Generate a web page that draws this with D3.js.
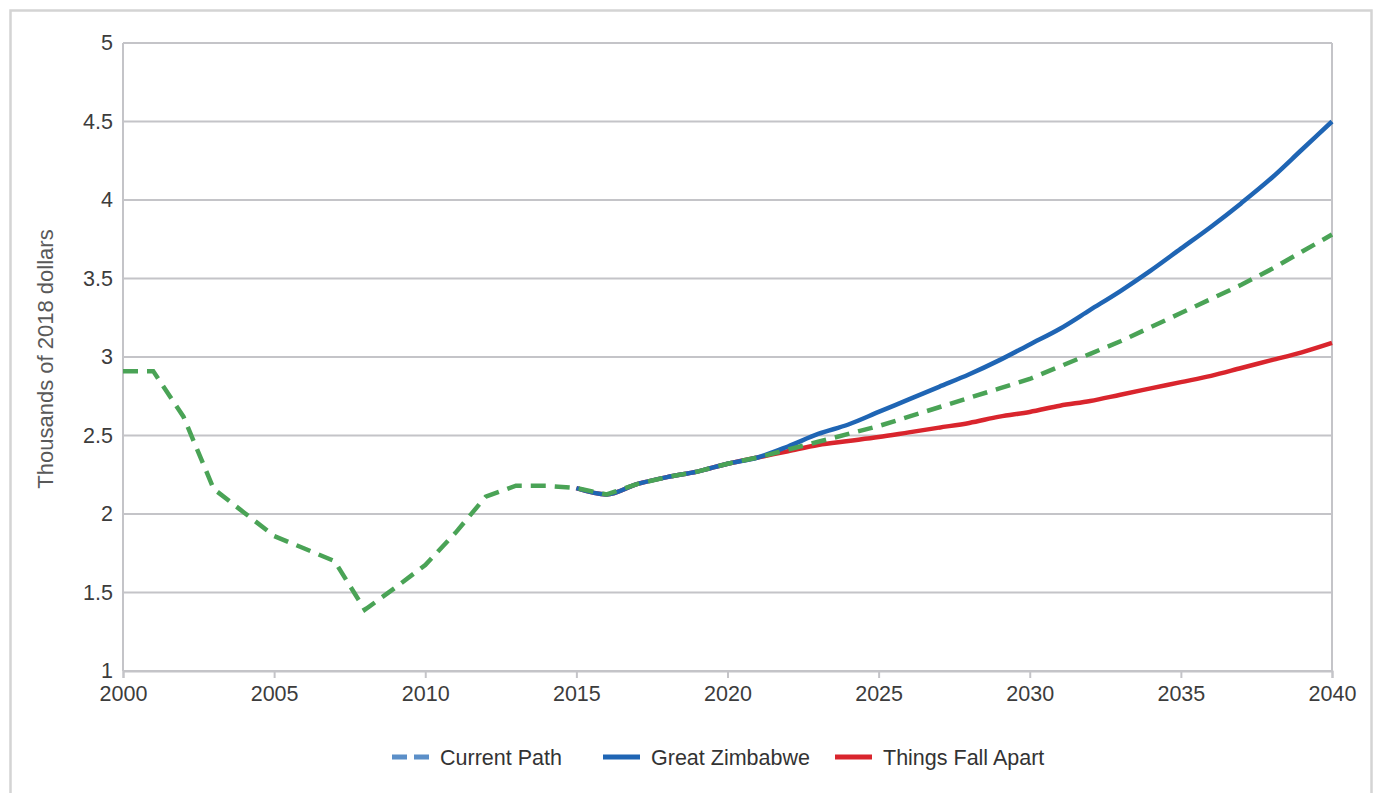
<!DOCTYPE html>
<html>
<head>
<meta charset="utf-8">
<script src="https://cdn.jsdelivr.net/npm/d3@7"></script>
<style>
  body { margin: 0; background: #fff; }
  text { font-family: "Liberation Sans", Arial, sans-serif; }
</style>
</head>
<body>
<div id="chart"></div>
<script>
// chart data
const years = d3.range(2000, 2041);
const currentPath = [2.91, 2.91, 2.62, 2.16, 2.01, 1.86, 1.78, 1.70, 1.39, 1.53,
  1.675, 1.88, 2.11, 2.18, 2.18, 2.165, 2.125, 2.19, 2.235, 2.27,
  2.32, 2.36, 2.41, 2.46, 2.51, 2.56, 2.62, 2.68, 2.74, 2.80,
  2.86, 2.94, 3.02, 3.10, 3.19, 3.28, 3.37, 3.46, 3.56, 3.67, 3.78];
const zimYears = d3.range(2015, 2041);
const greatZimbabwe = [2.165, 2.125, 2.19, 2.235, 2.27, 2.32, 2.36, 2.43, 2.51, 2.57,
  2.65, 2.73, 2.81, 2.89, 2.98, 3.08, 3.18, 3.30, 3.42, 3.55,
  3.69, 3.83, 3.98, 4.14, 4.32, 4.50];
const thingsFallApart = [2.165, 2.125, 2.19, 2.235, 2.27, 2.32, 2.36, 2.40, 2.44, 2.465,
  2.49, 2.52, 2.55, 2.58, 2.62, 2.65, 2.69, 2.72, 2.76, 2.80,
  2.84, 2.88, 2.93, 2.98, 3.03, 3.09];
const yTicks = [1, 1.5, 2, 2.5, 3, 3.5, 4, 4.5, 5];
const xTicks = [2000, 2005, 2010, 2015, 2020, 2025, 2030, 2035, 2040];

const width = 1378, height = 793;
const margin = { top: 43, right: 46, bottom: 122, left: 123 };

const svg = d3.select("#chart")
  .append("svg")
  .attr("width", width)
  .attr("height", height);

// outer frame
svg.append("rect")
  .attr("x", 10.5).attr("y", 10.5)
  .attr("width", 1361).attr("height", height)
  .attr("fill", "none")
  .attr("stroke", "#d4d4d4")
  .attr("stroke-width", 2.5);

const x = d3.scaleLinear()
  .domain([2000, 2040])
  .range([margin.left, width - margin.right]);

const y = d3.scaleLinear()
  .domain([1, 5])
  .range([height - margin.bottom, margin.top]);

// horizontal grid lines
svg.append("g")
  .selectAll("line")
  .data(yTicks)
  .join("line")
  .attr("x1", x(2000)).attr("x2", x(2040))
  .attr("y1", d => y(d)).attr("y2", d => y(d))
  .attr("stroke", "#c4c4c8")
  .attr("stroke-width", 2);

// left and right frame of plot
svg.append("g")
  .selectAll("line")
  .data([2000, 2040])
  .join("line")
  .attr("x1", d => x(d)).attr("x2", d => x(d))
  .attr("y1", y(5)).attr("y2", y(1))
  .attr("stroke", "#c4c4c8")
  .attr("stroke-width", 2);

// x axis
const xAxis = svg.append("g")
  .attr("transform", `translate(0,${y(1)})`)
  .call(d3.axisBottom(x).tickValues(xTicks).tickFormat(d3.format("d")).tickSize(7).tickPadding(8));
xAxis.select(".domain").attr("stroke", "#c4c4c8").attr("stroke-width", 2);
xAxis.selectAll(".tick line").attr("stroke", "#c4c4c8").attr("stroke-width", 2);
xAxis.selectAll("text").attr("font-size", "21.5px").attr("fill", "#3c3c3c");

// y axis
const yAxis = svg.append("g")
  .attr("transform", `translate(${margin.left},0)`)
  .call(d3.axisLeft(y).tickValues(yTicks).tickFormat(d => d).tickSize(0).tickPadding(10));
yAxis.select(".domain").remove();
yAxis.selectAll("text").attr("font-size", "21.5px").attr("fill", "#3c3c3c");

// y axis title
svg.append("text")
  .attr("transform", `translate(53,${(y(1) + y(5)) / 2 + 2}) rotate(-90)`)
  .attr("text-anchor", "middle")
  .attr("font-size", "22px")
  .attr("fill", "#595959")
  .text("Thousands of 2018 dollars");

const line = d3.line()
  .x(d => x(d[0]))
  .y(d => y(d[1]));

// red first, then blue, then green dashed on top
svg.append("path")
  .datum(d3.zip(zimYears, thingsFallApart))
  .attr("d", line.curve(d3.curveMonotoneX))
  .attr("fill", "none")
  .attr("stroke", "#d9252d")
  .attr("stroke-width", 4.5);

svg.append("path")
  .datum(d3.zip(zimYears, greatZimbabwe))
  .attr("d", line.curve(d3.curveMonotoneX))
  .attr("fill", "none")
  .attr("stroke", "#1f65b4")
  .attr("stroke-width", 4.5);

svg.append("path")
  .datum(d3.zip(years, currentPath))
  .attr("d", line.curve(d3.curveLinear))
  .attr("fill", "none")
  .attr("stroke", "#4aa356")
  .attr("stroke-width", 4.5)
  .attr("stroke-dasharray", "15,9");

// legend
const legendItems = [
  { name: "Current Path", color: "#5b8fc8", dash: "15,7", x: 392 },
  { name: "Great Zimbabwe", color: "#1f65b4", dash: null, x: 603 },
  { name: "Things Fall Apart", color: "#d9252d", dash: null, x: 835 }
];
const legend = svg.append("g").attr("transform", "translate(0,757)");
legendItems.forEach(item => {
  legend.append("line")
    .attr("x1", item.x).attr("x2", item.x + 37)
    .attr("y1", 0).attr("y2", 0)
    .attr("stroke", item.color)
    .attr("stroke-width", 5)
    .attr("stroke-dasharray", item.dash);
  legend.append("text")
    .attr("x", item.x + 48)
    .attr("y", 8)
    .attr("font-size", "21.5px")
    .attr("fill", "#333")
    .text(item.name);
});
</script>
</body>
</html>
